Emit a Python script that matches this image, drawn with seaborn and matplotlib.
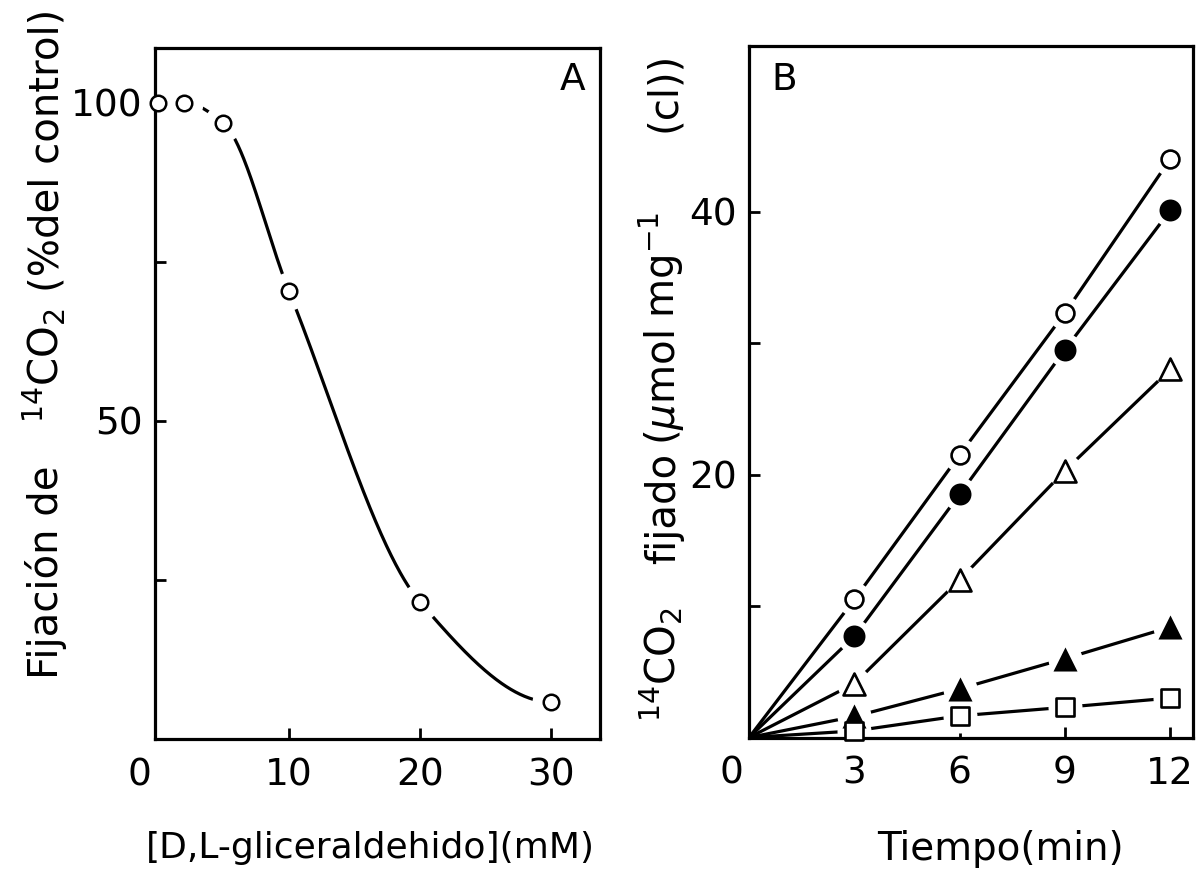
import numpy as np
import matplotlib
matplotlib.use("Agg")
import matplotlib.pyplot as plt
import matplotlib.transforms as mtransforms
import seaborn as sns

# ---- Panel A: 14CO2 fixation (% of control) vs D,L-glyceraldehyde (mM)
conc_mM = [0, 2, 5, 10, 20, 30]
fixation_pct = [100, 100, 96.8, 70.4, 21.5, 5.8]

# ---- Panel B: 14CO2 fixed (umol mg-1 chl) vs time (min)
time_min = [0, 3, 6, 9, 12]
open_circle = [0, 10.5, 21.5, 32.3, 44.0]
filled_circle = [0, 7.7, 18.5, 29.5, 40.1]
open_triangle = [0, 4.1, 12.0, 20.3, 28.0]
filled_triangle = [0, 1.6, 3.7, 6.0, 8.4]
open_square = [0, 0.5, 1.65, 2.3, 3.0]

xticks_a = [0, 10, 20, 30]
xticklabels_a = ["0", "10", "20", "30"]
yticks_a = [25, 50, 75, 100]
yticklabels_a = ["", "50", "", "100"]
xticks_b = [0, 3, 6, 9, 12]
xticklabels_b = ["0", "3", "6", "9", "12"]
yticks_b = [10, 20, 30, 40]
yticklabels_b = ["", "20", "", "40"]

sns.set_theme(style="white")
plt.rcParams["font.family"] = ["DejaVu Sans"]
plt.rcParams["mathtext.fontset"] = "dejavusans"

LW = 2.3
INK = "black"


def pchip(x, y, xs):
    """Monotone cubic Hermite interpolation (Fritsch-Carlson)."""
    x = np.asarray(x, float)
    y = np.asarray(y, float)
    h = np.diff(x)
    delta = np.diff(y) / h
    n = len(x)
    d = np.zeros(n)
    for k in range(1, n - 1):
        if delta[k - 1] * delta[k] > 0:
            w1 = 2 * h[k] + h[k - 1]
            w2 = h[k] + 2 * h[k - 1]
            d[k] = (w1 + w2) / (w1 / delta[k - 1] + w2 / delta[k])

    def end_slope(h0, h1, d0, d1):
        s = ((2 * h0 + h1) * d0 - h0 * d1) / (h0 + h1)
        if np.sign(s) != np.sign(d0):
            return 0.0
        if np.sign(d0) != np.sign(d1) and abs(s) > abs(3 * d0):
            return 3 * d0
        return s

    d[0] = end_slope(h[0], h[1], delta[0], delta[1])
    d[-1] = end_slope(h[-1], h[-2], delta[-1], delta[-2])
    xs = np.asarray(xs, float)
    idx = np.clip(np.searchsorted(x, xs) - 1, 0, n - 2)
    t = (xs - x[idx]) / h[idx]
    h00 = 2 * t**3 - 3 * t**2 + 1
    h10 = t**3 - 2 * t**2 + t
    h01 = -2 * t**3 + 3 * t**2
    h11 = t**3 - t**2
    return (h00 * y[idx] + h10 * h[idx] * d[idx]
            + h01 * y[idx + 1] + h11 * h[idx] * d[idx + 1])


def style_axes(ax, xticks, xlabels, yticks, ylabels):
    for sp in ax.spines.values():
        sp.set_visible(True)
        sp.set_linewidth(LW)
        sp.set_color(INK)
        sp.set_zorder(5)
    ax.set_xticks(xticks)
    ax.set_xticklabels(xlabels)
    ax.set_yticks(yticks)
    ax.set_yticklabels(ylabels)
    ax.tick_params(axis="both", direction="in", length=8, width=2,
                   colors=INK, labelsize=27, bottom=True, left=True,
                   top=False, right=False)
    ax.tick_params(axis="x", pad=13)
    ax.tick_params(axis="y", pad=9)
    ax.xaxis.get_major_ticks()[0].tick1line.set_visible(False)
    ax.set_xlabel("")
    ax.set_ylabel("")
    ax.grid(False)


def halo(ax, x, y, diameter_px):
    """White disc under each marker so the connecting lines stop short."""
    ms = diameter_px * 72.0 / fig.dpi
    sns.lineplot(x=x, y=y, ax=ax, estimator=None, sort=False,
                 linestyle="none", marker="o", markersize=ms,
                 markerfacecolor="white", markeredgecolor="white",
                 markeredgewidth=0, color="white", zorder=3, legend=False)


fig = plt.figure(figsize=(11.96, 8.73), dpi=100)
fig.patch.set_facecolor("white")
axA = fig.add_axes([0.1296, 0.1535, 0.372, 0.791])
axB = fig.add_axes([0.6263, 0.1552, 0.3712, 0.792])

# ---------------- Panel A ----------------
curve_x = np.linspace(conc_mM[1], conc_mM[-1], 400)
curve_y = pchip(conc_mM[1:], fixation_pct[1:], curve_x)
sns.lineplot(x=curve_x, y=curve_y, ax=axA, color=INK, linewidth=LW,
             estimator=None, sort=False, zorder=2)
halo(axA, conc_mM[1:], fixation_pct[1:], 38)
sns.scatterplot(x=conc_mM, y=fixation_pct, ax=axA, s=125, color="white",
                edgecolor=INK, linewidth=1.8, marker="o", zorder=6,
                legend=False, clip_on=False)
axA.set_xlim(-0.2, 33.7)
axA.set_ylim(0, 108.5)
style_axes(axA, xticks_a, xticklabels_a, yticks_a, yticklabels_a)

# ---------------- Panel B ----------------
series_b = [
    (open_circle, "o", False, 165),
    (filled_circle, "o", True, 250),
    (open_triangle, "^", False, 250),
    (filled_triangle, "^", True, 300),
    (open_square, "s", False, 150),
]
for vals, mk, filled, size in series_b:
    sns.lineplot(x=time_min, y=vals, ax=axB, color=INK, linewidth=LW,
                 estimator=None, sort=False, zorder=2)
for vals, mk, filled, size in series_b:
    halo(axB, time_min[1:], vals[1:], 34)
for vals, mk, filled, size in series_b:
    sns.scatterplot(x=time_min[1:], y=vals[1:], ax=axB, s=size,
                    color=INK if filled else "white", edgecolor=INK,
                    linewidth=0 if filled else 1.9, marker=mk, zorder=6,
                    legend=False, clip_on=False)
axB.set_xlim(0, 12.65)
axB.set_ylim(0, 52.6)
style_axes(axB, xticks_b, xticklabels_b, yticks_b, yticklabels_b)

# shift the "0" tick labels a little to the left of the origin
shift = mtransforms.ScaledTranslation(-0.18, 0, fig.dpi_scale_trans)
for ax in (axA, axB):
    lab = ax.get_xticklabels()[0]
    lab.set_transform(lab.get_transform() + shift)

# ---------------- Text ----------------
vkw = dict(rotation=90, rotation_mode="anchor", ha="center", va="baseline",
           color=INK, fontsize=29)
fig.text(0.0485, 0.3448, "Fijación de", **vkw)
fig.text(0.0485, 0.5808, "$^{14}$CO$_2$", **vkw)
fig.text(0.0485, 0.8282, "(%del control)", **vkw)

fig.text(0.5644, 0.2383, "$^{14}$CO$_2$", **vkw)
fig.text(0.5644, 0.4181, "fijado", **vkw)
fig.text(0.5644, 0.5556, "($\\mu$mol", **vkw)
fig.text(0.5644, 0.6964, "mg$^{-1}$", **vkw)
fig.text(0.5644, 0.8946, "(cl))", **vkw)

fig.text(0.3094, 0.0172, "[D,L-gliceraldehido](mM)", ha="center",
         va="baseline", color=INK, fontsize=26)
fig.text(0.8361, 0.0149, "Tiempo(min)", ha="center", va="baseline",
         color=INK, fontsize=28)

fig.text(0.4783, 0.8969, "A", ha="center", va="baseline", color=INK,
         fontsize=27)
fig.text(0.6555, 0.8969, "B", ha="center", va="baseline", color=INK,
         fontsize=27)

fig.savefig("out.png", dpi=100, facecolor="white")
